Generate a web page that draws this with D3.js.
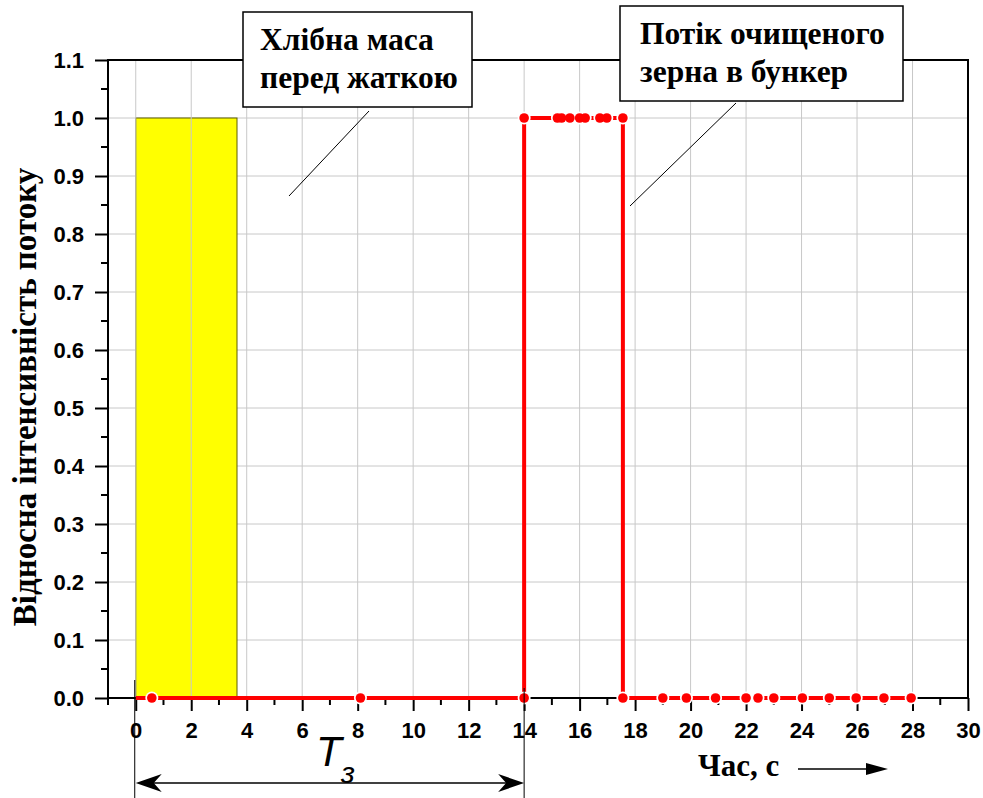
<!DOCTYPE html>
<html><head><meta charset="utf-8">
<script src="https://cdn.jsdelivr.net/npm/d3@7"></script>
<style>body{margin:0;background:#fff}svg{display:block}</style>
</head><body>
<script>
// ---- data ----
const xTicks = [0,2,4,6,8,10,12,14,16,18,20,22,24,26,28,30];
const yTicks = [0,0.1,0.2,0.3,0.4,0.5,0.6,0.7,0.8,0.9,1.0,1.1];
const grainStart = 0, grainEnd = 3.65, grainLevel = 1.0;
const flowX = [0,0.58,8.1,14.0,14.0,15.2,15.35,15.65,16.0,16.2,16.73,16.98,17.56,17.56,19.0,19.85,20.9,22.0,22.43,23.0,24.03,25.0,25.97,26.97,27.95];
const flowY = [0,0,0,0,1,1,1,1,1,1,1,1,1,0,0,0,0,0,0,0,0,0,0,0,0];
const delayStart = 0, delayEnd = 14;
const labelBox1 = ["Хлібна маса","перед жаткою"];
const labelBox2 = ["Потік очищеного","зерна в бункер"];
const xTitle = "Час, с";
const yTitle = "Відносна інтенсивність потоку";

const W = 983, H = 798;
const svg = d3.select("body").append("svg").attr("width",W).attr("height",H);
const x = d3.scaleLinear([-1,30],[108,968]);
const y = d3.scaleLinear([0,1.1],[698,60]);
const X0 = x(-1), X1 = x(30), Y0 = y(0), Y1 = y(1.1);

// horizontal grid
svg.append("g").selectAll("line").data(yTicks.filter(v=>v>0&&v<1.1)).join("line")
  .attr("x1",X0).attr("x2",X1).attr("y1",d=>y(d)).attr("y2",d=>y(d))
  .attr("stroke","#c8c8c8").attr("stroke-width",1);

// yellow block
svg.append("rect").attr("x",x(grainStart)).attr("y",y(grainLevel))
  .attr("width",x(grainEnd)-x(grainStart)).attr("height",y(0)-y(grainLevel))
  .attr("fill","#ffff00").attr("stroke","#5c5c00").attr("stroke-width",1);

// vertical grid
svg.append("g").selectAll("line").data(xTicks.filter(v=>v<30)).join("line")
  .attr("x1",d=>x(d)).attr("x2",d=>x(d)).attr("y1",Y0).attr("y2",Y1)
  .attr("stroke","#c8c8c8").attr("stroke-width",1);

// frame
svg.append("rect").attr("x",X0).attr("y",Y1).attr("width",X1-X0).attr("height",Y0-Y1)
  .attr("fill","none").attr("stroke","#000").attr("stroke-width",2);

const sansFam = "'Liberation Sans', Arial, sans-serif";
const tickSize = 22;
function styleAxis(g){
  g.select(".domain").remove();
  g.attr("font-size",tickSize).attr("font-weight","bold").attr("font-family",sansFam);
  g.selectAll(".tick line").attr("stroke-width",2);
  g.selectAll("text").attr("fill","#000").style("font-size",tickSize+"px").style("font-weight","bold").style("font-family",sansFam);
}
// x axis
const gx = svg.append("g").attr("transform",`translate(0,${Y0})`)
  .call(d3.axisBottom(x).tickValues(xTicks).tickSize(13).tickPadding(11).tickFormat(d3.format("d")));
styleAxis(gx);
svg.append("g").selectAll("line").data(d3.range(-1,30,2)).join("line")
  .attr("x1",d=>x(d)).attr("x2",d=>x(d)).attr("y1",Y0).attr("y2",Y0+7)
  .attr("stroke","#000").attr("stroke-width",2);

// y axis
const gy = svg.append("g").attr("transform",`translate(${X0},0)`)
  .call(d3.axisLeft(y).tickValues(yTicks).tickSize(13).tickPadding(11).tickFormat(d3.format(".1f")));
styleAxis(gy);
svg.append("g").selectAll("line").data(d3.range(0.05,1.1,0.1)).join("line")
  .attr("x1",X0-7).attr("x2",X0).attr("y1",d=>y(d)).attr("y2",d=>y(d))
  .attr("stroke","#000").attr("stroke-width",2);

// red flow series
const pts = flowX.map((v,i)=>[v,flowY[i]]);
svg.append("path").datum(pts)
  .attr("d",d3.line().x(d=>x(d[0])).y(d=>y(d[1])))
  .attr("fill","none").attr("stroke","#ff0000").attr("stroke-width",4).attr("stroke-linejoin","miter");
const mk = pts.slice(1);
svg.append("g").selectAll("circle").data(mk).join("circle")
  .attr("cx",d=>x(d[0])).attr("cy",d=>y(d[1])).attr("r",6.5).attr("fill","#fff");
svg.append("g").selectAll("circle").data(mk).join("circle")
  .attr("cx",d=>x(d[0])).attr("cy",d=>y(d[1])).attr("r",4.8).attr("fill","#ff0000");

// axis titles
const serif = "'Liberation Serif','Times New Roman',serif";
svg.append("text").attr("transform",`translate(36,397) rotate(-90)`)
  .attr("text-anchor","middle").style("font",`bold 33px ${serif}`).text(yTitle);
svg.append("text").attr("x",698).attr("y",776)
  .style("font",`bold 31px ${serif}`).text(xTitle);
svg.append("line").attr("x1",798).attr("x2",870).attr("y1",769).attr("y2",769).attr("stroke","#000").attr("stroke-width",1.3);
svg.append("path").attr("d","M888,769 L866,763 L866,775 Z").attr("fill","#000");

// annotation boxes
function box(bx,by,bw,bh,lines,tx,ty,lead){
  svg.append("rect").attr("x",bx).attr("y",by).attr("width",bw).attr("height",bh)
    .attr("fill","#fff").attr("stroke","#000").attr("stroke-width",1.5);
  lines.forEach((t,i)=>svg.append("text").attr("x",tx).attr("y",ty+i*38)
    .style("font",`bold 31.5px ${serif}`).text(t));
  svg.append("line").attr("x1",lead[0]).attr("y1",lead[1]).attr("x2",lead[2]).attr("y2",lead[3])
    .attr("stroke","#000").attr("stroke-width",1);
}
box(243,12,229,95,labelBox1,260,50,[369,111,289,196]);
box(620,6,283,95,labelBox2,640,44,[736,103,630,206]);

// T_з dimension
const xa = x(delayStart), xb = x(delayEnd), ya = 783;
svg.append("line").attr("x1",xa-1).attr("x2",xa-1).attr("y1",680).attr("y2",798).attr("stroke","#000").attr("stroke-width",1);
svg.append("line").attr("x1",xb).attr("x2",xb).attr("y1",688).attr("y2",798).attr("stroke","#000").attr("stroke-width",1);
svg.append("line").attr("x1",xa+10).attr("x2",xb-10).attr("y1",ya).attr("y2",ya).attr("stroke","#000").attr("stroke-width",1.3);
svg.append("path").attr("d",`M${xa},${ya} L${xa+26},${ya-9} L${xa+18},${ya} L${xa+26},${ya+9} Z`).attr("fill","#000");
svg.append("path").attr("d",`M${xb},${ya} L${xb-26},${ya-9} L${xb-18},${ya} L${xb-26},${ya+9} Z`).attr("fill","#000");
svg.append("text").attr("x",316).attr("y",766).style("font",`italic 42px ${sansFam}`).text("T");
svg.append("text").attr("x",341).attr("y",783).style("font",`italic 30px ${sansFam}`).text("з");
</script>
</body></html>
